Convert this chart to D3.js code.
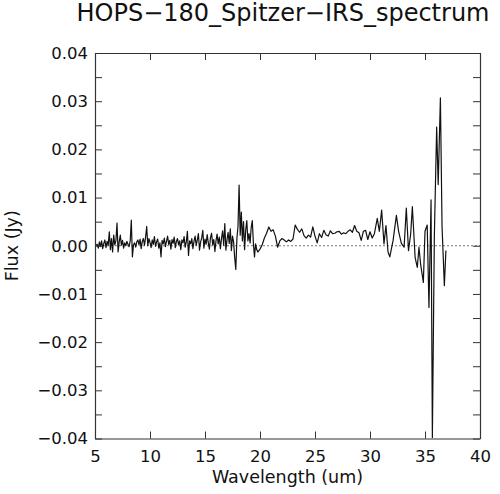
<!DOCTYPE html>
<html>
<head>
<meta charset="utf-8">
<script src="https://cdn.jsdelivr.net/npm/d3@7"></script>
<style>
	body { margin: 0; background: #fff; }
	svg text { font-family: "DejaVu Sans", sans-serif; fill: #111; }
</style>
</head>
<body>
<svg id="chart" width="500" height="494"></svg>
<script>
// chart text
var titleText = 'HOPS\u2212180_Spitzer\u2212IRS_spectrum';
var xLabel = 'Wavelength (um)';
var yLabel = 'Flux (Jy)';

// axis ticks
var xTicks = [5, 10, 15, 20, 25, 30, 35, 40];
var yTicks = [-0.04, -0.035, -0.03, -0.025, -0.02, -0.015, -0.01, -0.005, 0,
	0.005, 0.01, 0.015, 0.02, 0.025, 0.03, 0.035, 0.04];
var yLabelTicks = [-0.04, -0.03, -0.02, -0.01, 0, 0.01, 0.02, 0.03, 0.04];

// short-low module (um, Jy)
var wavelengthSL = [
	5.1, 5.2, 5.3, 5.4, 5.5, 5.6, 5.7, 5.8, 5.9, 6.0,
	6.1, 6.2, 6.3, 6.4, 6.5, 6.6, 6.7, 6.8, 6.9, 7.0,
	7.1, 7.2, 7.3, 7.4, 7.5, 7.6, 7.7, 7.8, 7.9, 8.0,
	8.1, 8.2, 8.3, 8.4, 8.5, 8.6, 8.7, 8.8, 8.9, 9.0,
	9.1, 9.2, 9.3, 9.4, 9.5, 9.6, 9.7, 9.8, 9.9, 10.0,
	10.1, 10.2, 10.3, 10.4, 10.5, 10.6, 10.7, 10.8, 10.9, 11.0,
	11.1, 11.2, 11.3, 11.4, 11.5, 11.6, 11.7, 11.8, 11.9, 12.0,
	12.1, 12.2, 12.3, 12.4, 12.5, 12.6, 12.7, 12.8, 12.9, 13.0,
	13.1, 13.2, 13.3, 13.4, 13.5, 13.6, 13.7, 13.8, 13.9, 14.0
];
var fluxSL = [
	0.0001, 0.0003, -0.0005, 0.0008, -0.0002, 0.0010, -0.0006, 0.0005, 0.0012, -0.0004,
	0.0009, 0.0001, 0.0029, -0.0008, 0.0015, -0.0013, 0.0022, 0.0002, 0.0010, 0.0047,
	-0.0013, 0.0008, 0.0022, 0.0001, 0.0011, -0.0005, 0.0006, 0.0000, 0.0009, 0.0003,
	-0.0002, 0.0010, 0.0053, -0.0023, 0.0002, 0.0006, -0.0003, 0.0008, 0.0012, 0.0002,
	0.0014, -0.0006, 0.0009, 0.0015, 0.0001, 0.0018, 0.0040, 0.0000, 0.0015, 0.0007,
	-0.0004, 0.0012, 0.0003, 0.0019, -0.0001, 0.0008, 0.0014, -0.0005, 0.0006, -0.0023,
	0.0011, 0.0004, 0.0016, -0.0002, 0.0009, 0.0020, 0.0003, 0.0011, -0.0007, 0.0013,
	0.0005, 0.0018, -0.0004, 0.0009, 0.0015, 0.0002, 0.0010, -0.0008, 0.0012, 0.0006,
	0.0019, -0.0003, 0.0008, 0.0030, -0.0020, 0.0010, 0.0004, 0.0015, -0.0006, 0.0009
];

// long-low module, first order overlap region
var wavelengthLL2 = [
	14.1, 14.2, 14.3, 14.4, 14.5, 14.6, 14.7, 14.8, 14.9, 15.0,
	15.1, 15.2, 15.3, 15.4, 15.5, 15.6, 15.7, 15.8, 15.9, 16.0,
	16.1, 16.2, 16.3, 16.4, 16.5, 16.6, 16.7, 16.8, 16.9, 17.0,
	17.1, 17.2, 17.3, 17.4, 17.5, 17.6, 17.7, 17.8, 17.9, 18.0,
	18.1, 18.2, 18.3, 18.4, 18.5, 18.6, 18.7, 18.8, 18.9, 19.0,
	19.1, 19.2, 19.3, 19.4, 19.5, 19.6, 19.7, 19.8, 19.9
];
var fluxLL2 = [
	0.0020, 0.0001, 0.0012, 0.0025, -0.0009, 0.0008, 0.0016, 0.0032, -0.0005, 0.0014,
	0.0003, 0.0023, 0.0006, -0.0007, 0.0017, 0.0026, 0.0002, 0.0013, -0.0012, 0.0010,
	0.0024, 0.0004, 0.0018, -0.0006, 0.0015, 0.0031, 0.0001, 0.0046, -0.0009, 0.0012,
	0.0028, 0.0005, 0.0035, -0.0010, 0.0020, 0.0008, -0.0025, -0.0049, 0.0015, 0.0040,
	0.0126, 0.0022, 0.0070, 0.0010, 0.0050, -0.0008, 0.0032, 0.0052, 0.0010, 0.0025,
	0.0006, 0.0038, 0.0052, 0.0005, -0.0023, 0.0004, -0.0008, -0.0013, -0.0010
];

// long-low module, long wavelengths
var wavelengthLL1 = [
	20.0, 20.2, 20.4, 20.6, 20.8, 21.0, 21.2, 21.4, 21.6, 21.8,
	22.0, 22.2, 22.4, 22.6, 22.8, 23.0, 23.2, 23.4, 23.6, 23.8,
	24.0, 24.2, 24.4, 24.6, 24.8, 25.0, 25.2, 25.4, 25.6, 25.8,
	26.0, 26.2, 26.4, 26.6, 26.8, 27.0, 27.2, 27.4, 27.6, 27.8,
	28.0, 28.2, 28.4, 28.6, 28.8, 29.0, 29.2, 29.4, 29.6, 29.8,
	30.0, 30.2, 30.4, 30.66, 30.85, 31.06, 31.27, 31.45, 31.64, 31.8,
	32.1, 32.4, 32.6, 32.85, 33.1, 33.3, 33.5, 33.7, 33.85, 34.1,
	34.3, 34.45, 34.6, 34.85, 35.0, 35.2, 35.36, 35.55, 35.67, 35.85,
	36.06, 36.2, 36.4, 36.55, 36.76, 36.9
];
var fluxLL1 = [
	-0.0007, 0.0002, 0.0016, 0.0026, 0.0039, 0.0030, 0.0033, 0.0020, -0.0003, 0.0010,
	0.0015, 0.0012, 0.0008, 0.0012, 0.0009, 0.0014, 0.0043, 0.0034, 0.0028, 0.0035,
	0.0021, 0.0016, 0.0022, 0.0018, 0.0039, 0.0020, 0.0006, 0.0025, 0.0017, 0.0032,
	0.0023, 0.0020, 0.0031, 0.0025, 0.0026, 0.0029, 0.0030, 0.0024, 0.0027, 0.0025,
	0.0030, 0.0033, 0.0028, 0.0042, 0.0030, 0.0027, 0.0011, 0.0030, 0.0032, 0.0013,
	0.0029, 0.0016, 0.0025, 0.0057, 0.0030, 0.0074, 0.0004, 0.0042, -0.0013, -0.0023,
	0.0011, 0.0063, 0.0030, 0.0005, -0.0003, 0.0078, -0.0010, 0.0025, 0.0081, -0.0024,
	-0.0045, -0.0003, -0.0038, -0.0076, 0.0030, 0.0043, -0.0128, 0.0095, -0.0398, 0.0020,
	0.0246, 0.0127, 0.0307, 0.0040, -0.0083, -0.0010
];

var wavelength = wavelengthSL.concat(wavelengthLL2, wavelengthLL1);
var flux = fluxSL.concat(fluxLL2, fluxLL1);

var plotLeft = 95,
	plotRight = 480,
	plotTop = 53,
	plotBottom = 438.5,
	tickLength = 7;

var svg = d3.select('#chart');

var x = d3.scaleLinear().domain([5, 40]).range([plotLeft, plotRight]);
var y = d3.scaleLinear().domain([-0.04, 0.04]).range([plotBottom, plotTop]);

var yFormat = d3.format('.2f');

svg.append('clipPath')
	.attr('id', 'plotClip')
	.append('rect')
	.attr('x', plotLeft)
	.attr('y', plotTop)
	.attr('width', plotRight - plotLeft)
	.attr('height', plotBottom - plotTop);

// zero line
svg.append('line')
	.attr('x1', plotLeft)
	.attr('x2', plotRight)
	.attr('y1', y(0))
	.attr('y2', y(0))
	.attr('stroke', '#777')
	.attr('stroke-width', 1)
	.attr('stroke-dasharray', '2,2');

// spectrum
var points = wavelength.map(function(w, i) {
	return [w, flux[i]];
});

svg.append('path')
	.datum(points)
	.attr('clip-path', 'url(#plotClip)')
	.attr('fill', 'none')
	.attr('stroke', '#111')
	.attr('stroke-width', 1.2)
	.attr('stroke-linejoin', 'round')
	.attr('d', d3.line()
		.x(function(d) { return x(d[0]); })
		.y(function(d) { return y(d[1]); }));

// axes, ticks pointing inward on all four sides
function styleAxis(g) {
	g.selectAll('path.domain').attr('stroke', '#333').attr('stroke-width', 1.2);
	g.selectAll('.tick line').attr('stroke', '#333').attr('stroke-width', 1);
	g.selectAll('.tick text').attr('font-family', '"DejaVu Sans", sans-serif').attr('fill', '#111');
}

svg.append('g')
	.attr('transform', 'translate(0,' + plotBottom + ')')
	.call(d3.axisBottom(x)
		.tickValues(xTicks)
		.tickSizeInner(-tickLength)
		.tickSizeOuter(0)
		.tickPadding(11.5)
		.tickFormat(d3.format('d')))
	.attr('font-size', 16.5)
	.call(styleAxis);

svg.append('g')
	.attr('transform', 'translate(0,' + plotTop + ')')
	.call(d3.axisTop(x)
		.tickValues(xTicks)
		.tickSizeInner(-tickLength)
		.tickSizeOuter(0)
		.tickFormat(''))
	.call(styleAxis);

svg.append('g')
	.attr('transform', 'translate(' + plotLeft + ',0)')
	.call(d3.axisLeft(y)
		.tickValues(yTicks)
		.tickSizeInner(-tickLength)
		.tickSizeOuter(0)
		.tickPadding(7)
		.tickFormat(function(d) {
			var hit = yLabelTicks.some(function(v) { return Math.abs(v - d) < 1e-9; });
			return hit ? yFormat(d) : '';
		}))
	.attr('font-size', 16.5)
	.call(styleAxis);

svg.append('g')
	.attr('transform', 'translate(' + plotRight + ',0)')
	.call(d3.axisRight(y)
		.tickValues(yTicks)
		.tickSizeInner(-tickLength)
		.tickSizeOuter(0)
		.tickFormat(''))
	.call(styleAxis);

// titles
svg.append('text')
	.attr('x', 283)
	.attr('y', 21)
	.attr('text-anchor', 'middle')
	.attr('font-size', 24)
	.text(titleText);

svg.append('text')
	.attr('x', (plotLeft + plotRight) / 2)
	.attr('y', 483)
	.attr('text-anchor', 'middle')
	.attr('font-size', 17.5)
	.text(xLabel);

svg.append('text')
	.attr('transform', 'translate(18,' + ((plotTop + plotBottom) / 2) + ') rotate(-90)')
	.attr('text-anchor', 'middle')
	.attr('font-size', 17.5)
	.text(yLabel);
</script>
</body>
</html>
